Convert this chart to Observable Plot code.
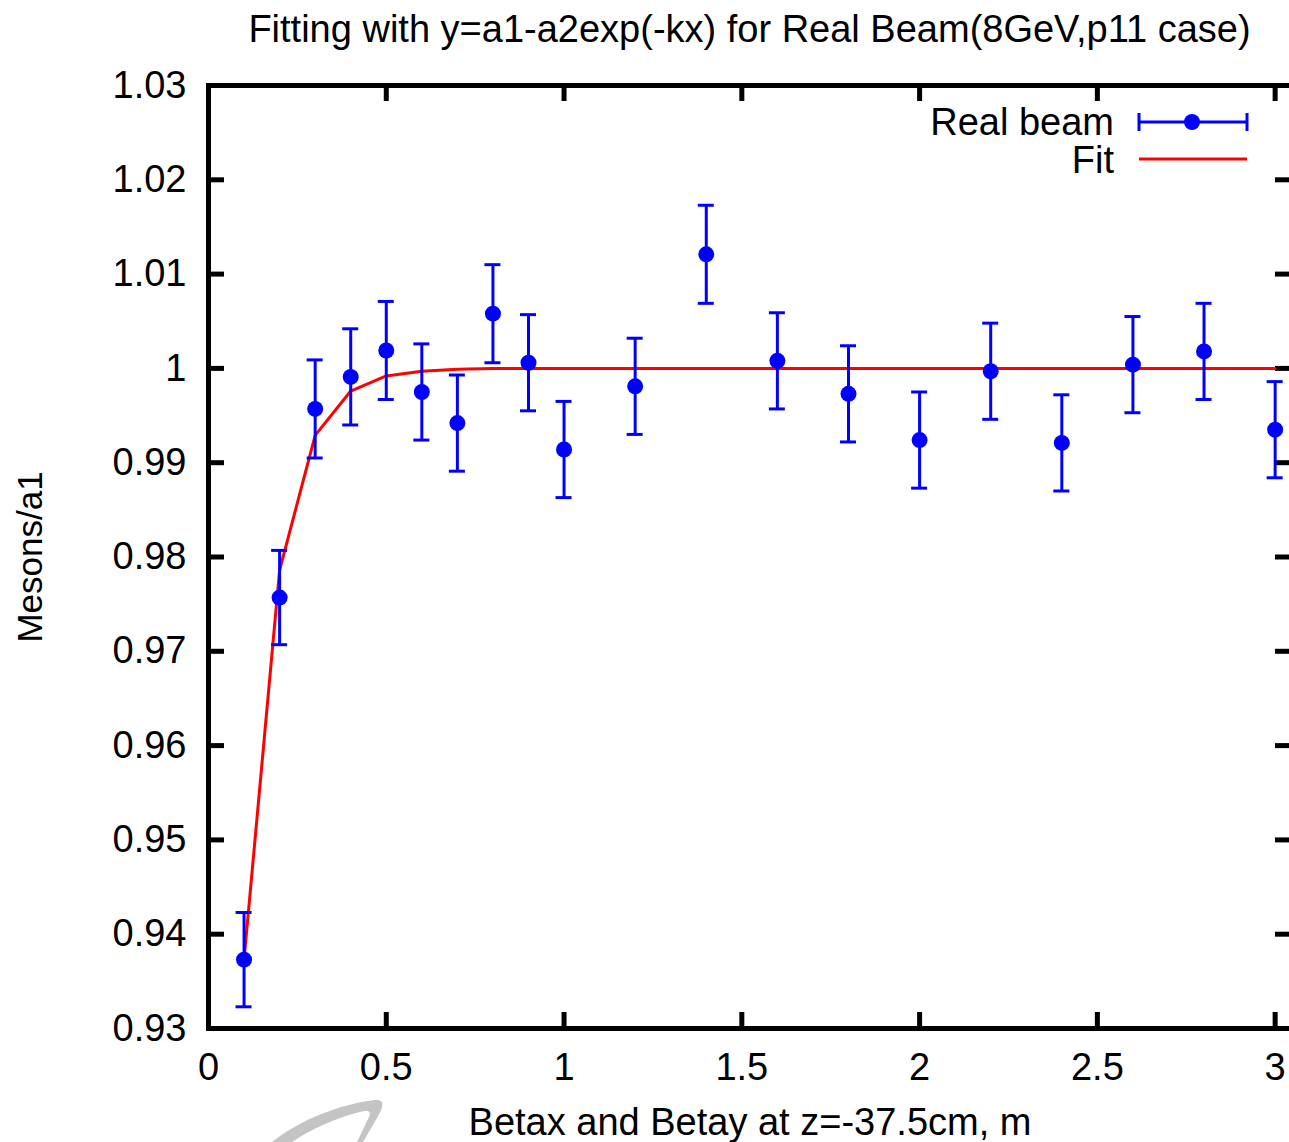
<!DOCTYPE html>
<html>
<head>
<meta charset="utf-8">
<script src="https://cdn.jsdelivr.net/npm/d3@7"></script>
<script src="https://cdn.jsdelivr.net/npm/@observablehq/plot@0.6"></script>
<style>
  html, body { margin: 0; padding: 0; background: #fff; overflow: hidden; width: 1289px; height: 1142px; }
  #wrap { position: relative; width: 1289px; height: 1142px; overflow: hidden; font-family: "Liberation Sans", Arial, sans-serif; }
  #title { position: absolute; left: 208px; width: 1083px; top: 0; height: 58px; line-height: 58px; text-align: center; font-size: 38px; color: #000; white-space: nowrap; }
  #chart { position: absolute; left: 0; top: 58px; width: 1300px; height: 1084px; }
  #chart svg { max-width: none !important; width: 1300px; height: 1084px; }
  #legend { position: absolute; left: 0; top: 0; width: 1289px; height: 200px; pointer-events: none; }
  #legend .lbl { position: absolute; right: calc(1289px - 1114px); font-size: 38px; color: #000; white-space: nowrap; line-height: 40px; }
  #deco { position: absolute; left: 0; top: 1080px; }
</style>
</head>
<body>
<div id="wrap">
  <div id="title">Fitting with y=a1-a2exp(-kx) for Real Beam(8GeV,p11 case)</div>
  <div id="chart"></div>
  <svg id="deco" width="500" height="62">
    <path d="M272,62 C300,40 340,24 375,20 C386,19 383,28 377,38 L363,62 L357,62 L369,37 C372,31 368,30 360,32 C335,38 310,50 292,62 Z" fill="#c4c4c4"/>
  </svg>
  <div id="legend">
    <div class="lbl" style="top:102px">Real beam</div>
    <div class="lbl" style="top:140px">Fit</div>
    <svg width="1289" height="200" style="position:absolute;left:0;top:0">
      <line x1="1139" x2="1247" y1="122" y2="122" stroke="#0000ff" stroke-width="3"/>
      <line x1="1139" x2="1139" y1="113" y2="131" stroke="#0000ff" stroke-width="3"/>
      <line x1="1247" x2="1247" y1="113" y2="131" stroke="#0000ff" stroke-width="3"/>
      <circle cx="1192" cy="122" r="8" fill="#0000ff"/>
      <line x1="1139" x2="1247" y1="159" y2="159" stroke="#ff0000" stroke-width="3"/>
    </svg>
  </div>
</div>
<script>
// ---- data ----
const betaX   = [0.1, 0.2, 0.3, 0.4, 0.5, 0.6, 0.7, 0.8, 0.9, 1.0, 1.2, 1.4, 1.6, 1.8, 2.0, 2.2, 2.4, 2.6, 2.8, 3.0];
const mesons  = [0.9373, 0.9757, 0.9957, 0.9991, 1.0019, 0.9975, 0.9942, 1.0058, 1.0006, 0.9914, 0.9981, 1.0121, 1.0008, 0.9973, 0.9924, 0.9997, 0.9921, 1.0004, 1.0018, 0.9935];
const errors  = [0.0050, 0.0050, 0.0052, 0.0051, 0.0052, 0.0051, 0.0051, 0.0052, 0.0051, 0.0051, 0.0051, 0.0052, 0.0051, 0.0051, 0.0051, 0.0051, 0.0051, 0.0051, 0.0051, 0.0051];
const fitVals = [0.9373, 0.9786, 0.9929, 0.9976, 0.9992, 0.9997, 0.9999, 1.0, 1.0, 1.0, 1.0, 1.0, 1.0, 1.0, 1.0, 1.0, 1.0, 1.0, 1.0, 1.0];
const xTicks  = [0, 0.5, 1, 1.5, 2, 2.5, 3];
const yTicks  = [0.93, 0.94, 0.95, 0.96, 0.97, 0.98, 0.99, 1.00, 1.01, 1.02, 1.03];
const xLabel  = "Betax and Betay at z=-37.5cm, m";
const yLabel  = "Mesons/a1";

const pts = betaX.map((x, i) => ({x, y: mesons[i], lo: mesons[i] - errors[i], hi: mesons[i] + errors[i]}));
const fit = betaX.map((x, i) => ({x, y: fitVals[i]}));

const W = 1300, H = 1084, ML = 208, MR = 9, MT = 27, MB = 114;
const PW = W - ML - MR, PH = H - MT - MB, TL = 16;
const fmt = d => String(+d.toFixed(2));

const chart = Plot.plot({
  width: W, height: H,
  marginLeft: ML, marginRight: MR, marginTop: MT, marginBottom: MB,
  x: {domain: [0, 3.046]},
  y: {domain: [0.93, 1.03]},
  style: {fontFamily: "'Liberation Sans', Arial, sans-serif", fontSize: "38px", color: "#000", background: "transparent", overflow: "visible"},
  marks: [
    Plot.axisX({ticks: xTicks, tickSize: 0, tickPadding: 25, tickFormat: fmt, label: null}),
    Plot.axisY({ticks: yTicks, tickSize: 0, tickPadding: 22, tickFormat: fmt, label: null}),
    // inward ticks on all four sides
    Plot.tickY(yTicks, {y: d => d, insetRight: PW - TL, stroke: "#000", strokeWidth: 5}),
    Plot.tickY(yTicks, {y: d => d, insetLeft: PW - TL, stroke: "#000", strokeWidth: 5}),
    Plot.tickX(xTicks, {x: d => d, insetTop: PH - TL, stroke: "#000", strokeWidth: 5}),
    Plot.tickX(xTicks, {x: d => d, insetBottom: PH - TL, stroke: "#000", strokeWidth: 5}),
    Plot.frame({stroke: "#000", strokeWidth: 5}),
    // fit line
    Plot.line(fit, {x: "x", y: "y", stroke: "#ff0000", strokeWidth: 3}),
    // error bars
    Plot.ruleX(pts, {x: "x", y1: "lo", y2: "hi", stroke: "#0000ff", strokeWidth: 3}),
    Plot.ruleY(pts, {y: "lo", x1: "x", x2: "x", insetLeft: -8, insetRight: -8, stroke: "#0000ff", strokeWidth: 3}),
    Plot.ruleY(pts, {y: "hi", x1: "x", x2: "x", insetLeft: -8, insetRight: -8, stroke: "#0000ff", strokeWidth: 3}),
    Plot.dot(pts, {x: "x", y: "y", r: 8, fill: "#0000ff", stroke: null}),
    // axis titles
    Plot.text([xLabel], {frameAnchor: "bottom", dy: 94, text: d => d, lineAnchor: "middle", fill: "#000"}),
    Plot.text([yLabel], {frameAnchor: "left", dx: -178, text: d => d, rotate: -90, lineAnchor: "middle", textAnchor: "middle", fill: "#000", fontSize: 35})
  ]
});
document.getElementById("chart").appendChild(chart);
</script>
</body>
</html>
